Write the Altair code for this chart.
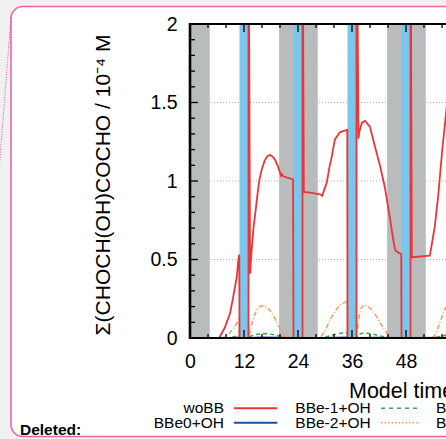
import altair as alt
import pandas as pd

# Summed CHOCH(OH)COCHO in the aqueous phase (10^-4 M) against model time (h)
woBB_h = [0, 5, 6.5, 7.8, 8.9, 9.6, 10.4, 10.75, 10.95, 11.0, 13.0, 13.0, 13.35, 13.7, 14.1, 14.7,
          15.1, 15.5, 16.0, 16.6, 17.2, 17.8, 18.4, 18.9, 19.6, 20.2, 20.4, 20.7, 22.9, 23.0,
          25.0, 25.0, 25.3, 27.0, 28.9, 29.4, 29.9, 30.4, 31.0, 31.5, 32.2, 33.3, 34.0, 34.95, 35.0,
          37.0, 37.0, 37.45, 37.6, 38.2, 38.9, 40.0, 41.1, 42.2, 43.3, 44.4, 45.2, 45.6, 46.2,
          46.95, 47.0, 49.0, 49.0, 49.3, 53.3, 54.4, 55.2, 56.0, 57.5]
woBB_v = [0, 0, 0, 0.07, 0.157, 0.26, 0.39, 0.5, 0.53, 0, 0, 3.0, 0.41, 0.56, 0.7, 0.84,
          0.94, 1.02, 1.08, 1.13, 1.158, 1.165, 1.155, 1.135, 1.09, 1.035, 1.045, 1.03, 1.01, 0,
          0, 3.0, 0.93, 0.925, 0.915, 0.905, 0.95, 0.99, 1.09, 1.155, 1.265, 1.31, 1.318, 1.325, 0,
          0, 3.0, 1.27, 1.31, 1.37, 1.384, 1.345, 1.22, 1.1, 0.96, 0.77, 0.62, 0.56, 0.545,
          0.535, 0, 0, 3.0, 0.515, 0.525, 0.71, 0.92, 1.18, 1.6]

bbe0_h = [0, 9, 10.95, 11.0, 13.0, 16.0, 20.0, 23.0, 29.0, 34.95, 35.0, 37.0, 41.0, 47.0, 49.0, 57.0]
bbe0_v = [0, 0, 0.003, 0, 0, 0.004, 0.002, 0, 0, 0.004, 0, 0, 0.003, 0, 0, 0.002]

bbe1_h = [0, 8.5, 9.5, 10.3, 10.95, 11.0, 13.0, 13.3, 14.0, 15.0, 16.3, 17.5, 18.7, 19.8, 21.0, 22.0,
          29.0, 30.0, 31.2, 32.5, 33.8, 34.95, 35.0, 37.0, 37.4, 38.3, 39.5, 40.8, 42.0, 43.3, 44.5,
          45.5, 54.0, 55.0, 56.0, 57.0]
bbe1_v = [0, 0, 0.005, 0.012, 0.018, 0, 0, 0.008, 0.018, 0.024, 0.028, 0.026, 0.02, 0.012, 0.004, 0,
          0, 0.006, 0.015, 0.025, 0.032, 0.035, 0, 0, 0.022, 0.03, 0.03, 0.024, 0.015, 0.007, 0.002,
          0, 0, 0.006, 0.012, 0.02]

bbe2_h = [0, 7.0, 7.5, 8.2, 8.9, 9.5, 10.0, 10.5, 10.95, 11.0, 13.0, 13.2, 13.7, 14.1, 14.4, 14.9,
          15.4, 16.0, 16.5, 17.0, 17.8, 18.4, 18.9, 19.5, 20.0, 20.5, 21.0, 21.6, 22.5,
          28.8, 29.3, 29.8, 30.4, 31.1, 31.9, 32.6, 33.3, 34.1, 34.95, 35.0,
          37.0, 37.3, 37.6, 38.1, 38.8, 39.5, 40.2, 40.9, 41.5, 42.2, 42.8, 43.4, 44.0, 44.6, 45.5,
          53.6, 54.2, 54.8, 55.3, 56.0, 56.9]
bbe2_v = [0, 0, 0.005, 0.015, 0.035, 0.055, 0.075, 0.1, 0.125, 0, 0, 0.02, 0.085, 0.125, 0.15, 0.18,
          0.198, 0.205, 0.204, 0.196, 0.175, 0.15, 0.125, 0.09, 0.06, 0.035, 0.015, 0.004, 0,
          0, 0.015, 0.04, 0.07, 0.115, 0.155, 0.185, 0.207, 0.222, 0.235, 0,
          0, 0.08, 0.14, 0.195, 0.21, 0.203, 0.185, 0.16, 0.135, 0.1, 0.07, 0.045, 0.02, 0.005, 0,
          0, 0.01, 0.04, 0.08, 0.136, 0.2]

# Night (grey) and cloud (blue) periods, in model hours
night_start = [0.0, 19.8, 43.8]
night_end = [4.4, 28.4, 52.4]
cloud_start = [11, 23, 35, 47]
cloud_end = [13, 25, 37, 49]

# Axis ticks
x_labels = [0, 12, 24, 36, 48]
x_major = [12, 24, 36, 48]
x_minor = [4, 8, 16, 20, 28, 32, 40, 44, 52, 56]
y_labels = [0, 0.5, 1, 1.5, 2]
y_grid = [0.5, 1, 1.5]
y_minor = [0.1, 0.2, 0.3, 0.4, 0.6, 0.7, 0.8, 0.9, 1.1, 1.2, 1.3, 1.4, 1.6, 1.7, 1.8, 1.9]

W, H = 256, 314
X_MAX = 56.89
FONT = "Liberation Sans"

xs = alt.Scale(domain=[0, X_MAX], nice=False, zero=False)
ys = alt.Scale(domain=[0, 2], nice=False, zero=False)

# one axis definition per channel, shared by every layer
x_axis = alt.Axis(values=x_labels, format="d", title="", grid=False, ticks=False, tickSize=0,
                  domain=False, labelFont=FONT, labelFontSize=19.5, labelColor="black",
                  labelPadding=14, labelFlush=False)
y_axis = alt.Axis(values=y_labels, format="~g", title="", grid=False, ticks=False, tickSize=0,
                  domain=False, labelFont=FONT, labelFontSize=19.5, labelColor="black",
                  labelPadding=13, labelFlush=False)


def X(field):
    return alt.X(field, scale=xs, axis=x_axis)


def Y(field):
    return alt.Y(field, scale=ys, axis=y_axis)


def one():
    return pd.DataFrame({"k": [0]})


def series(h, v):
    return pd.DataFrame({"h": h, "v": v, "i": list(range(len(h)))})


layers = []

# horizontal grid
layers.append(
    alt.Chart(pd.DataFrame({"v": y_grid})).mark_rule(color="#b0b0b0", strokeDash=[1, 2], strokeWidth=1)
    .encode(y=Y("v:Q"), x=alt.value(0), x2=alt.value(W))
)

# night and cloud periods
layers.append(
    alt.Chart(pd.DataFrame({"s": night_start, "e": night_end})).mark_rect(color="#b9bcbd", clip=True)
    .encode(x=X("s:Q"), x2="e:Q", y=alt.value(0), y2=alt.value(H))
)
layers.append(
    alt.Chart(pd.DataFrame({"s": cloud_start, "e": cloud_end})).mark_rect(color="#7ac6ec", clip=True)
    .encode(x=X("s:Q"), x2="e:Q", y=alt.value(0), y2=alt.value(H))
)

# model runs
for h, v, col, dash, sw in [
    (bbe0_h, bbe0_v, "#1d4f98", None, 1.8),
    (bbe1_h, bbe1_v, "#3aa84a", [4, 3], 1.5),
    (bbe2_h, bbe2_v, "#f59c5a", [5, 2, 1, 2], 1.5),
    (woBB_h, woBB_v, "#ee3434", None, 1.8),
]:
    kw = dict(color=col, strokeWidth=sw, clip=True)
    if dash:
        kw["strokeDash"] = dash
    layers.append(
        alt.Chart(series(h, v)).mark_line(**kw).encode(x=X("h:Q"), y=Y("v:Q"), order="i:Q")
    )

# inward ticks
for vals, length in [(y_labels, 8), (y_minor, 5)]:
    layers.append(
        alt.Chart(pd.DataFrame({"v": vals})).mark_rule(color="black", strokeWidth=1.3)
        .encode(y=Y("v:Q"), x=alt.value(0), x2=alt.value(length))
    )
for vals, length in [(x_major, 8), (x_minor, 4)]:
    for base, sign in [(H, -1), (0, 1)]:
        layers.append(
            alt.Chart(pd.DataFrame({"h": vals})).mark_rule(color="black", strokeWidth=1.3)
            .encode(x=X("h:Q"), y=alt.value(base), y2=alt.value(base + sign * length))
        )

# plot border: left, bottom and top lines
layers.append(
    alt.Chart(one()).mark_rule(color="black", strokeWidth=2.6)
    .encode(x=alt.value(0), y=alt.value(-1), y2=alt.value(H + 1))
)
layers.append(
    alt.Chart(one()).mark_rule(color="black", strokeWidth=2)
    .encode(x=alt.value(-1), x2=alt.value(W + 5), y=alt.value(H))
)
layers.append(
    alt.Chart(one()).mark_rule(color="black", strokeWidth=2)
    .encode(x=alt.value(-1), x2=alt.value(W + 5), y=alt.value(0))
)

# axis titles
layers.append(
    alt.Chart(one()).mark_text(text="Σ(CHOCH(OH)COCHO / 10⁻⁴ M", angle=270, align="center",
                               baseline="alphabetic", font=FONT, fontSize=21, color="black")
    .encode(x=alt.value(-80), y=alt.value(161))
)
layers.append(
    alt.Chart(one()).mark_text(text="Model time / h", align="left", baseline="middle",
                               font=FONT, fontSize=21.5, color="black")
    .encode(x=alt.value(159), y=alt.value(367.7))
)

# key
R1, R2 = 384.3, 398.7
for label, x, y, align in [
    ("woBB", 34, R1, "right"), ("BBe0+OH", 34, R2, "right"),
    ("BBe-1+OH", 180.7, R1, "right"), ("BBe-2+OH", 180.7, R2, "right"),
    ("BBe-1+NO3", 246, R1, "left"), ("BBe-2+NO3", 246, R2, "left"),
]:
    layers.append(
        alt.Chart(one()).mark_text(text=label, align=align, baseline="middle",
                                   font=FONT, fontSize=15.5, color="black")
        .encode(x=alt.value(x), y=alt.value(y))
    )
for x1, x2, y, col, dash in [
    (44, 87.3, R1, "#ee3434", None), (44, 87.3, R2, "#1d4f98", None),
    (191, 230, R1, "#3aa84a", [4, 4]), (191, 230, R2, "#f59c5a", [1.5, 2]),
]:
    kw = dict(color=col, strokeWidth=2 if dash is None else 1.5)
    if dash:
        kw["strokeDash"] = dash
    layers.append(
        alt.Chart(one()).mark_rule(**kw)
        .encode(x=alt.value(x1), x2=alt.value(x2), y=alt.value(y))
    )

# page frame: grey margin outside a rounded pink border
layers.append(
    alt.Chart(one()).mark_rect(cornerRadius=32, fillOpacity=0, stroke="#f1f1f1", strokeWidth=40)
    .encode(x=alt.value(-199), x2=alt.value(350), y=alt.value(-37.5), y2=alt.value(432.5))
)
layers.append(
    alt.Chart(one()).mark_rect(cornerRadius=12, fillOpacity=0, stroke="#ec64ad", strokeWidth=1.6)
    .encode(x=alt.value(-179), x2=alt.value(330), y=alt.value(-17.5), y2=alt.value(412.5))
)
layers.append(
    alt.Chart(one()).mark_rule(stroke="#e4499c", strokeDash=[1, 1.5], strokeWidth=1)
    .encode(x=alt.value(-179), y=alt.value(-7), x2=alt.value(-191), y2=alt.value(147))
)
layers.append(
    alt.Chart(one()).mark_text(text="Deleted:", align="left", baseline="alphabetic",
                               font=FONT, fontSize=15.5, fontWeight="bold", color="black")
    .encode(x=alt.value(-170), y=alt.value(410.5))
)

chart = (
    alt.layer(*layers)
    .properties(width=W, height=H, background="white",
                padding={"left": 190, "top": 24, "right": 0, "bottom": 101},
                autosize=alt.AutoSizeParams(type="none"))
    .configure_view(strokeWidth=0)
)

chart.save("out.html", embed_options={"renderer": "svg", "actions": False})
